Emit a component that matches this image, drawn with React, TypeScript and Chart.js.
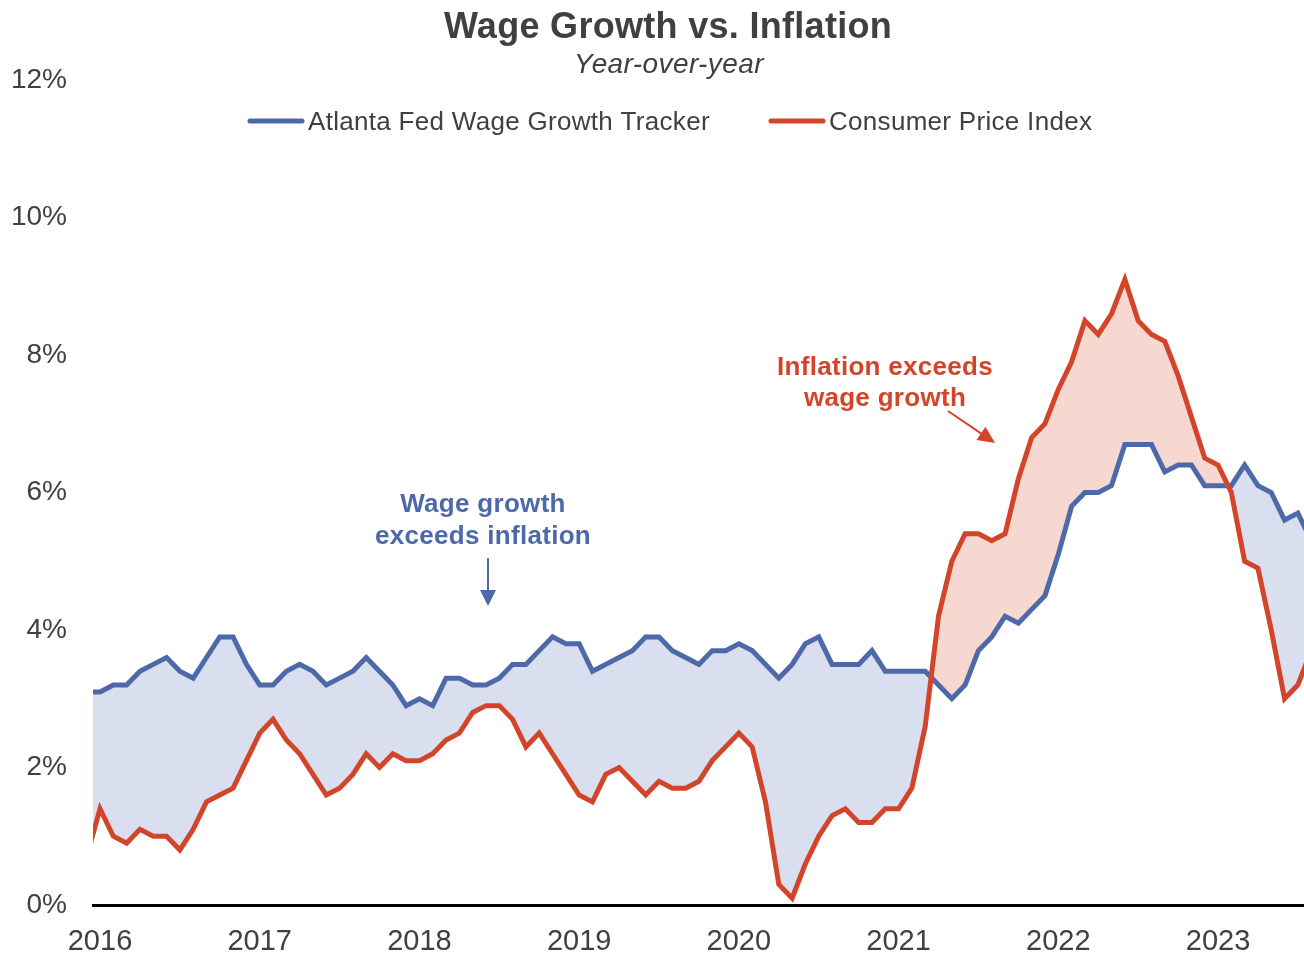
import { useEffect, useRef } from 'react';
import { Chart, registerables } from 'chart.js';

Chart.register(...registerables);

// ---- data (monthly, first value = Dec 2015) ----
const firstMonthIndex = -1; // Dec 2015 relative to Jan 2016
const yearLabels = ['2016', '2017', '2018', '2019', '2020', '2021', '2022', '2023'];
const yTickValues = [0, 2, 4, 6, 8, 10, 12];
const seriesNames = ['Consumer Price Index', 'Atlanta Fed Wage Growth Tracker'];

const wageGrowth = [
  3.1,
  3.1, 3.2, 3.2, 3.4, 3.5, 3.6, 3.4, 3.3, 3.6, 3.9, 3.9, 3.5,
  3.2, 3.2, 3.4, 3.5, 3.4, 3.2, 3.3, 3.4, 3.6, 3.4, 3.2, 2.9,
  3.0, 2.9, 3.3, 3.3, 3.2, 3.2, 3.3, 3.5, 3.5, 3.7, 3.9, 3.8,
  3.8, 3.4, 3.5, 3.6, 3.7, 3.9, 3.9, 3.7, 3.6, 3.5, 3.7, 3.7,
  3.8, 3.7, 3.5, 3.3, 3.5, 3.8, 3.9, 3.5, 3.5, 3.5, 3.7, 3.4,
  3.4, 3.4, 3.4, 3.2, 3.0, 3.2, 3.7, 3.9, 4.2, 4.1, 4.3, 4.5,
  5.1, 5.8, 6.0, 6.0, 6.1, 6.7, 6.7, 6.7, 6.3, 6.4, 6.4, 6.1,
  6.1, 6.1, 6.4, 6.1, 6.0, 5.6, 5.7, 5.3,
];

const cpiInflation = [
  0.7,
  1.4, 1.0, 0.9, 1.1, 1.0, 1.0, 0.8, 1.1, 1.5, 1.6, 1.7, 2.1,
  2.5, 2.7, 2.4, 2.2, 1.9, 1.6, 1.7, 1.9, 2.2, 2.0, 2.2, 2.1,
  2.1, 2.2, 2.4, 2.5, 2.8, 2.9, 2.9, 2.7, 2.3, 2.5, 2.2, 1.9,
  1.6, 1.5, 1.9, 2.0, 1.8, 1.6, 1.8, 1.7, 1.7, 1.8, 2.1, 2.3,
  2.5, 2.3, 1.5, 0.3, 0.1, 0.6, 1.0, 1.3, 1.4, 1.2, 1.2, 1.4,
  1.4, 1.7, 2.6, 4.2, 5.0, 5.4, 5.4, 5.3, 5.4, 6.2, 6.8, 7.0,
  7.5, 7.9, 8.5, 8.3, 8.6, 9.1, 8.5, 8.3, 8.2, 7.7, 7.1, 6.5,
  6.4, 6.0, 5.0, 4.9, 4.0, 3.0, 3.2, 3.7,
];

const titleText = 'Wage Growth vs. Inflation';
const subtitleText = 'Year-over-year';
const wageNote = ['Wage growth', 'exceeds inflation'];
const inflationNote = ['Inflation exceeds', 'wage growth'];

// ---- styles ----
const FONT = "'Liberation Sans', Arial, Helvetica, sans-serif";
const TEXT = '#404040';
const BLUE = '#4E69AA';
const RED = '#D3452A';
const BLUE_FILL = '#D9DFEE';
const RED_FILL = '#F7D8D1';

const toPoints = (arr: number[]) => arr.map((v, i) => ({ x: i + firstMonthIndex, y: v }));

function drawArrow(ctx: CanvasRenderingContext2D, x1: number, y1: number, x2: number, y2: number, color: string, head: number, half: number) {
  const a = Math.atan2(y2 - y1, x2 - x1);
  const bx = x2 - head * Math.cos(a);
  const by = y2 - head * Math.sin(a);
  ctx.strokeStyle = color;
  ctx.fillStyle = color;
  ctx.lineWidth = 2;
  ctx.beginPath();
  ctx.moveTo(x1, y1);
  ctx.lineTo(bx, by);
  ctx.stroke();
  ctx.beginPath();
  ctx.moveTo(x2, y2);
  ctx.lineTo(bx + half * Math.sin(a), by - half * Math.cos(a));
  ctx.lineTo(bx - half * Math.sin(a), by + half * Math.cos(a));
  ctx.closePath();
  ctx.fill();
}

const overlayPlugin = {
  id: 'overlayText',
  afterDraw(chart: any) {
    const ctx: CanvasRenderingContext2D = chart.ctx;
    ctx.save();
    const anyCtx = ctx as any;
    ctx.textBaseline = 'alphabetic';
    ctx.textAlign = 'center';
    ctx.fillStyle = TEXT;

    anyCtx.letterSpacing = '0.3px';
    ctx.font = `bold 36px ${FONT}`;
    ctx.fillText(titleText, 668, 38);

    anyCtx.letterSpacing = '0.4px';
    ctx.font = `italic 28px ${FONT}`;
    ctx.fillText(subtitleText, 669, 73);

    // legend
    anyCtx.letterSpacing = '0.3px';
    ctx.font = `26px ${FONT}`;
    ctx.textAlign = 'left';
    ctx.lineCap = 'round';
    ctx.lineWidth = 5;
    const legend = [
      { color: BLUE, x0: 250, x1: 302, tx: 308, label: seriesNames[1] },
      { color: RED, x0: 771, x1: 823, tx: 829, label: seriesNames[0] },
    ];
    legend.forEach((l) => {
      ctx.strokeStyle = l.color;
      ctx.beginPath();
      ctx.moveTo(l.x0, 121);
      ctx.lineTo(l.x1, 121);
      ctx.stroke();
      ctx.fillStyle = TEXT;
      ctx.fillText(l.label, l.tx, 130);
    });
    ctx.lineCap = 'butt';

    // annotations
    anyCtx.letterSpacing = '0.3px';
    ctx.textAlign = 'center';
    ctx.font = `bold 26px ${FONT}`;
    ctx.fillStyle = BLUE;
    ctx.fillText(wageNote[0], 483, 512);
    ctx.fillText(wageNote[1], 483, 544);
    drawArrow(ctx, 488, 558, 488, 606, BLUE, 16, 8);

    ctx.fillStyle = RED;
    ctx.fillText(inflationNote[0], 885, 375);
    ctx.fillText(inflationNote[1], 885, 406);
    drawArrow(ctx, 948, 411, 995, 443, RED, 17, 8);

    ctx.restore();
  },
};

export default function App() {
  const ref = useRef<HTMLCanvasElement>(null);

  useEffect(() => {
    document.body.style.margin = '0';
    document.body.style.overflow = 'hidden';
    const canvas = ref.current;
    if (!canvas) return;
    const chart = new Chart(canvas, {
      type: 'line',
      data: {
        datasets: [
          {
            label: seriesNames[0],
            data: toPoints(cpiInflation),
            borderColor: RED,
            backgroundColor: RED,
            borderWidth: 5,
            pointRadius: 0,
            tension: 0,
            fill: false,
            clip: 0,
          },
          {
            label: seriesNames[1],
            data: toPoints(wageGrowth),
            borderColor: BLUE,
            backgroundColor: BLUE,
            borderWidth: 5,
            pointRadius: 0,
            tension: 0,
            fill: { target: 0, above: BLUE_FILL, below: RED_FILL },
            clip: 0,
          },
        ],
      },
      options: {
        responsive: false,
        devicePixelRatio: 1,
        animation: false,
        layout: { padding: { top: 80, left: 0, right: 0, bottom: 0 } },
        plugins: {
          legend: { display: false },
          title: { display: false },
          tooltip: { enabled: false },
        },
        scales: {
          x: {
            type: 'linear',
            min: -0.526,
            max: 90.46,
            grid: { display: false, drawTicks: false },
            border: { display: true, color: '#000000', width: 3 },
            afterBuildTicks: (scale: any) => {
              scale.ticks = yearLabels.map((_, i) => ({ value: i * 12 }));
            },
            afterFit: (scale: any) => {
              scale.height = 50;
            },
            ticks: {
              autoSkip: false,
              maxRotation: 0,
              padding: 20,
              color: TEXT,
              font: { family: FONT, size: 29 },
              callback: (v: any) => yearLabels[Math.round(Number(v) / 12)] ?? '',
            },
          },
          y: {
            min: 0,
            max: 12,
            grid: { display: false, drawTicks: false },
            border: { display: false },
            afterBuildTicks: (scale: any) => {
              scale.ticks = yTickValues.map((v) => ({ value: v }));
            },
            afterFit: (scale: any) => {
              scale.width = 93;
            },
            ticks: {
              padding: 26,
              color: TEXT,
              font: { family: FONT, size: 28 },
              callback: (v: any) => `${v}%`,
            },
          },
        },
      },
      plugins: [overlayPlugin],
    } as any);
    return () => chart.destroy();
  }, []);

  return (
    <div style={{ width: 1304, height: 955, position: 'relative' }}>
      <canvas ref={ref} width={1304} height={955} style={{ display: 'block' }} />
    </div>
  );
}
